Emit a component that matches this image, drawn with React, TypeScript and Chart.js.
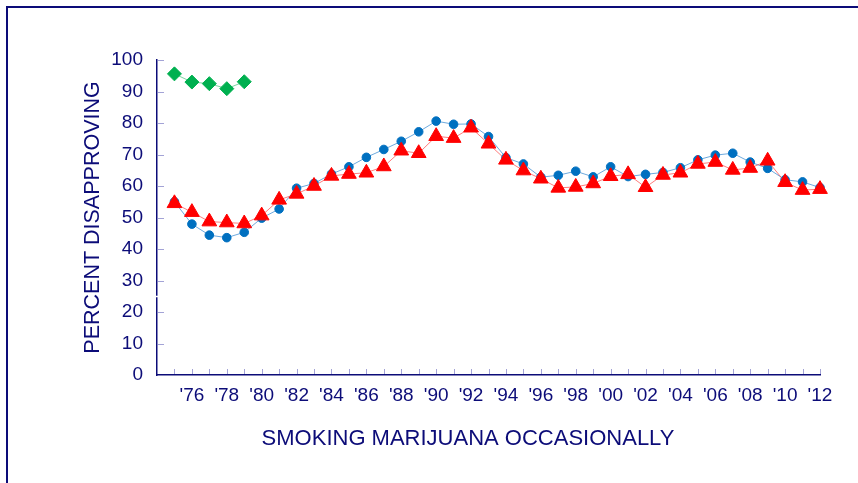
import React, { useEffect, useRef } from "react";
import { Chart, registerables } from "chart.js";

Chart.register(...registerables);

const years: number[] = [
  1975, 1976, 1977, 1978, 1979, 1980, 1981, 1982, 1983, 1984,
  1985, 1986, 1987, 1988, 1989, 1990, 1991, 1992, 1993, 1994,
  1995, 1996, 1997, 1998, 1999, 2000, 2001, 2002, 2003, 2004,
  2005, 2006, 2007, 2008, 2009, 2010, 2011, 2012,
];

const greenValues: (number | null)[] = [95.6, 93.0, 92.5, 90.9, 93.1];

const blueValues: (number | null)[] = [
  55.0, 47.9, 44.4, 43.6, 45.3, 49.8, 52.7, 59.3, 60.8, 63.8,
  66.1, 69.1, 71.6, 74.2, 77.2, 80.6, 79.6, 79.7, 75.7, 69.0,
  67.0, 62.8, 63.4, 64.7, 62.9, 66.1, 63.0, 63.7, 64.3, 65.8,
  68.3, 69.8, 70.4, 67.6, 65.6, 62.0, 61.3, 59.5,
];

const redValues: (number | null)[] = [
  54.5, 51.7, 48.7, 48.4, 48.1, 50.6, 55.6, 57.5, 60.0, 63.2,
  63.8, 64.2, 66.2, 71.2, 70.4, 75.8, 75.2, 78.5, 73.4, 68.3,
  64.9, 62.3, 59.4, 59.7, 60.8, 63.1, 63.7, 59.6, 63.5, 64.2,
  67.0, 67.6, 65.1, 65.7, 68.0, 61.2, 58.7, 59.0,
];

const yTickValues: number[] = [0, 10, 20, 30, 40, 50, 60, 70, 80, 90, 100];
const xLabelYears: number[] = [
  1976, 1978, 1980, 1982, 1984, 1986, 1988, 1990, 1992, 1994,
  1996, 1998, 2000, 2002, 2004, 2006, 2008, 2010, 2012,
];
const xTitle = "SMOKING MARIJUANA OCCASIONALLY";
const yTitle = "PERCENT DISAPPROVING";

const NAVY = "#0c0c78";
const TICK = "#a3a3d6";
const FONT = '"Liberation Sans", Arial, sans-serif';

const toPoints = (vals: (number | null)[]) =>
  vals.map((v, i) => ({ x: years[i], y: v }));

const innerTicks = {
  id: "innerTicks",
  afterDraw(chart: any) {
    const { ctx, chartArea, scales } = chart;
    const x = scales.x;
    const y = scales.y;
    ctx.save();
    ctx.strokeStyle = TICK;
    ctx.lineWidth = 1;
    ctx.beginPath();
    yTickValues.forEach((v) => {
      if (v === 0) return;
      const py = Math.round(y.getPixelForValue(v)) + 0.5;
      ctx.moveTo(chartArea.left + 1, py);
      ctx.lineTo(chartArea.left + 7, py);
    });
    years.forEach((yr) => {
      const px = Math.round(x.getPixelForValue(yr)) + 0.5;
      ctx.moveTo(px, chartArea.bottom - 1);
      ctx.lineTo(px, chartArea.bottom - 6);
    });
    ctx.stroke();
    // small break in the value axis
    const by = y.getPixelForValue(25);
    ctx.fillStyle = "#ffffff";
    ctx.fillRect(chartArea.left - 3, by - 0.5, 7, 1.5);
    // category title below the axis
    ctx.fillStyle = NAVY;
    ctx.font = "22px " + FONT;
    ctx.textAlign = "center";
    ctx.textBaseline = "middle";
    ctx.fillText(xTitle, 468, x.bottom - 44);
    ctx.restore();
  },
};

export default function App() {
  const ref = useRef<HTMLCanvasElement | null>(null);

  useEffect(() => {
    document.body.style.margin = "0";
    const canvas = ref.current;
    if (!canvas) return;
    const chart = new Chart(canvas, {
      type: "line",
      data: {
        datasets: [
          {
            label: "red",
            data: toPoints(redValues),
            borderColor: "rgba(255,80,80,0.75)",
            borderWidth: 1,
            backgroundColor: "#ff0000",
            pointStyle: "triangle",
            pointRadius: 8.5,
            pointBorderWidth: 1,
            pointBorderColor: "#ff0000",
            pointBackgroundColor: "#ff0000",
            tension: 0,
            clip: false,
          },
          {
            label: "blue",
            data: toPoints(blueValues),
            borderColor: "rgba(60,140,210,0.75)",
            borderWidth: 1,
            backgroundColor: "#0070c0",
            pointStyle: "circle",
            pointRadius: 4.3,
            pointBorderWidth: 1,
            pointBorderColor: "#0070c0",
            pointBackgroundColor: "#0070c0",
            tension: 0,
            clip: false,
          },
          {
            label: "green",
            data: toPoints(greenValues),
            borderColor: "rgba(80,200,130,0.75)",
            borderWidth: 1,
            backgroundColor: "#00b050",
            pointStyle: "rectRot",
            pointRadius: 7,
            pointBorderWidth: 1,
            pointBorderColor: "#00b050",
            pointBackgroundColor: "#00b050",
            tension: 0,
            clip: false,
          },
        ],
      },
      options: {
        responsive: false,
        animation: false,
        devicePixelRatio: 1,
        layout: { padding: { left: 0, top: 60, right: 38, bottom: 0 } },
        plugins: {
          legend: { display: false },
          tooltip: { enabled: false },
        },
        scales: {
          x: {
            type: "linear",
            min: 1974,
            max: 2012,
            afterBuildTicks: (scale: any) => {
              scale.ticks = xLabelYears.map((v) => ({ value: v }));
            },
            afterFit: (scale: any) => {
              scale.height = 108;
            },
            grid: { display: false, drawTicks: false },
            border: { display: true, color: NAVY, width: 1.5 },
            ticks: {
              autoSkip: false,
              maxRotation: 0,
              padding: 9,
              color: NAVY,
              font: { family: FONT, size: 19 },
              callback: (v: any) => "'" + String(v).slice(2),
            },
            title: { display: false },
          },
          y: {
            min: 0,
            max: 100,
            afterBuildTicks: (scale: any) => {
              scale.ticks = yTickValues.map((v) => ({ value: v }));
            },
            afterFit: (scale: any) => {
              scale.width = 157;
            },
            grid: { display: false, drawTicks: false },
            border: { display: true, color: NAVY, width: 1.5 },
            ticks: {
              padding: 14,
              color: NAVY,
              font: { family: FONT, size: 19 },
            },
            title: {
              display: true,
              text: yTitle,
              color: NAVY,
              font: { family: FONT, size: 21.5 },
              padding: { top: 80, bottom: 0 },
            },
          },
        },
      },
      plugins: [innerTicks],
    } as any);
    return () => chart.destroy();
  }, []);

  return (
    <div
      style={{
        position: "relative",
        width: 858,
        height: 483,
        overflow: "hidden",
        background: "#ffffff",
      }}
    >
      <div
        style={{
          position: "absolute",
          left: 6,
          top: 6,
          width: 900,
          height: 600,
          border: "2px solid " + NAVY,
        }}
      />
      <canvas
        ref={ref}
        width={858}
        height={483}
        style={{ position: "absolute", left: 0, top: 0, width: 858, height: 483 }}
      />
    </div>
  );
}
